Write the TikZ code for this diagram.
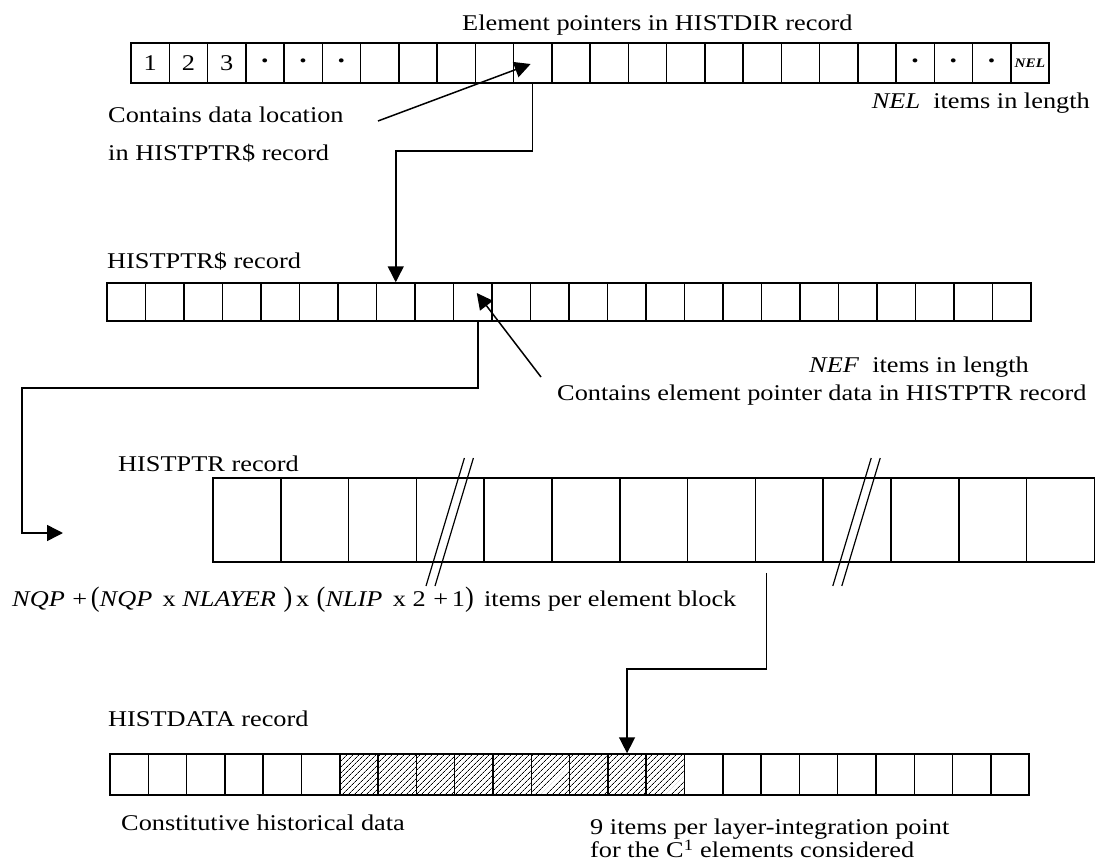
\documentclass[tikz,border=0pt]{standalone}
\usepackage{fontspec}
\usepackage{graphicx}
\setmainfont[FakeStretch=1.17]{Liberation Serif}
\usetikzlibrary{arrows.meta,patterns.meta,calc}
\newcommand\lblfont{\fontsize{22.5}{27}\selectfont}
\newcommand\dt{{\fontsize{17}{17}\selectfont •}}
\begin{document}
\begin{tikzpicture}[x=1pt,y=1pt,
  cellA/.style={draw, line width=1.5pt, inner sep=0pt, minimum width=38.25pt, minimum height=40pt, font=\lblfont},
  cellB/.style={draw, line width=1.5pt, inner sep=0pt, minimum width=38.5pt, minimum height=38pt},
  cellC/.style={draw, line width=1.5pt, inner sep=0pt, minimum width=67.8pt, minimum height=84pt},
  cellD/.style={draw, line width=1.5pt, inner sep=0pt, minimum width=38.3pt, minimum height=41pt},
  hatched/.style={pattern={Lines[angle=45,distance=4pt,line width=0.7pt]}},
  lbl/.style={inner sep=0pt, font=\lblfont},
  conn/.style={line width=1.5pt},
  arr/.style={conn, -{Triangle[length=16pt,width=16pt]}},
  brk/.style={line width=1.2pt}]
\useasboundingbox (0,0) rectangle (1096,-867);
\fill[white] (0,0) rectangle (1096,-867);

% ---------- HISTDIR row ----------
\node[lbl, anchor=base west] (title) at (462,-31) {Element pointers in HISTDIR record};
\node[cellA] (a1) at ({131+0.5*38.25},-63) {1};
\node[cellA] (a2) at ({131+1.5*38.25},-63) {2};
\node[cellA] (a3) at ({131+2.5*38.25},-63) {3};
\node[cellA] (a4) at ({131+3.5*38.25},-63) {\dt};
\node[cellA] (a5) at ({131+4.5*38.25},-63) {\dt};
\node[cellA] (a6) at ({131+5.5*38.25},-63) {\dt};
\foreach \i in {7,...,20} \node[cellA] (a\i) at ({131+(\i-0.5)*38.25},-63) {};
\node[cellA] (a21) at ({131+20.5*38.25},-63) {\dt};
\node[cellA] (a22) at ({131+21.5*38.25},-63) {\dt};
\node[cellA] (a23) at ({131+22.5*38.25},-63) {\dt};
\node[cellA] (a24) at ({131+23.5*38.25},-63) {\fontsize{13}{13}\selectfont\textbf{\textit{NEL}}};
\node[lbl, anchor=base east] (nel) at (1090,-108) {\textit{NEL}\ \ items in length};
\node[lbl, anchor=north west, align=left, font={\fontsize{22.5}{38}\selectfont}] (cont1) at (108,-107)
  {Contains data location\\in HISTPTR\$ record};

% ---------- HISTPTR$ row ----------
\node[lbl, anchor=base west] (lb) at (107,-268) {HISTPTR\$ record};
\foreach \i in {1,...,24} \node[cellB] (b\i) at ({107+(\i-0.5)*38.5},-302) {};
\node[lbl, anchor=base east] (nef) at (1029,-372) {\textit{NEF}\ \ items in length};
\node[lbl, anchor=base west] (cont2) at (557,-400) {Contains element pointer data in HISTPTR record};

% ---------- HISTPTR row ----------
\node[lbl, anchor=base west] (lc) at (118,-471) {HISTPTR record};
\foreach \i in {1,...,13} \node[cellC] (c\i) at ({213+(\i-0.5)*67.8},-520) {};
\foreach \k in {c4,c10} {
  \draw[brk] ($(\k.center)+(-24.3,-66)$) -- ($(\k.center)+(14.1,62)$);
  \draw[brk] ($(\k.center)+(-15.3,-66)$) -- ($(\k.center)+(23.1,62)$);
}
\node[lbl, anchor=base west] (form) at (12,-606)
  {\textit{NQP}\,\,+\,\scalebox{1}[1.25]{(}\textit{NQP}\, x \textit{NLAYER}\,\,\scalebox{1}[1.25]{)}\,x\,\,\scalebox{1}[1.25]{(}\textit{NLIP}\, x 2\,\,+\,1\scalebox{1}[1.25]{)}\, items per element block};

% ---------- HISTDATA row ----------
\node[lbl, anchor=base west] (ld) at (108,-726) {HISTDATA record};
\foreach \i in {1,...,6} \node[cellD] (d\i) at ({110+(\i-0.5)*38.3},-774.5) {};
\foreach \i in {7,...,15} \node[cellD, hatched] (d\i) at ({110+(\i-0.5)*38.3},-774.5) {};
\foreach \i in {16,...,24} \node[cellD] (d\i) at ({110+(\i-0.5)*38.3},-774.5) {};
\node[lbl, anchor=base west] (chd) at (121,-830) {Constitutive historical data};
\node[lbl, anchor=north west, align=left, font={\fontsize{22.5}{23}\selectfont}] (nine) at (590,-819)
  {9 items per layer-integration point\\for the C\textsuperscript{1} elements considered};

% ---------- connectors ----------
\coordinate (s1) at (378,-121);
\draw[arr] (s1) -- ($(a11.center)+(-2,-1)$);
\draw[arr] (a11.south) -- ++(0,-67) -| (b8.north);

\coordinate (s2) at (541,-377);
\draw[arr] (s2) -- ($(b10.center)+(4,9)$);
\coordinate (e2) at (63,-533);
\draw[arr] ($(b10.south)+(5,0)$) -- ++(0,-66) -| (22,-450) |- (e2);

\coordinate (s3) at ($(c9.south west)+(12,-10)$);
\draw[arr] (s3) -- ++(0,-96) -| (d14.north);
\end{tikzpicture}
\end{document}
